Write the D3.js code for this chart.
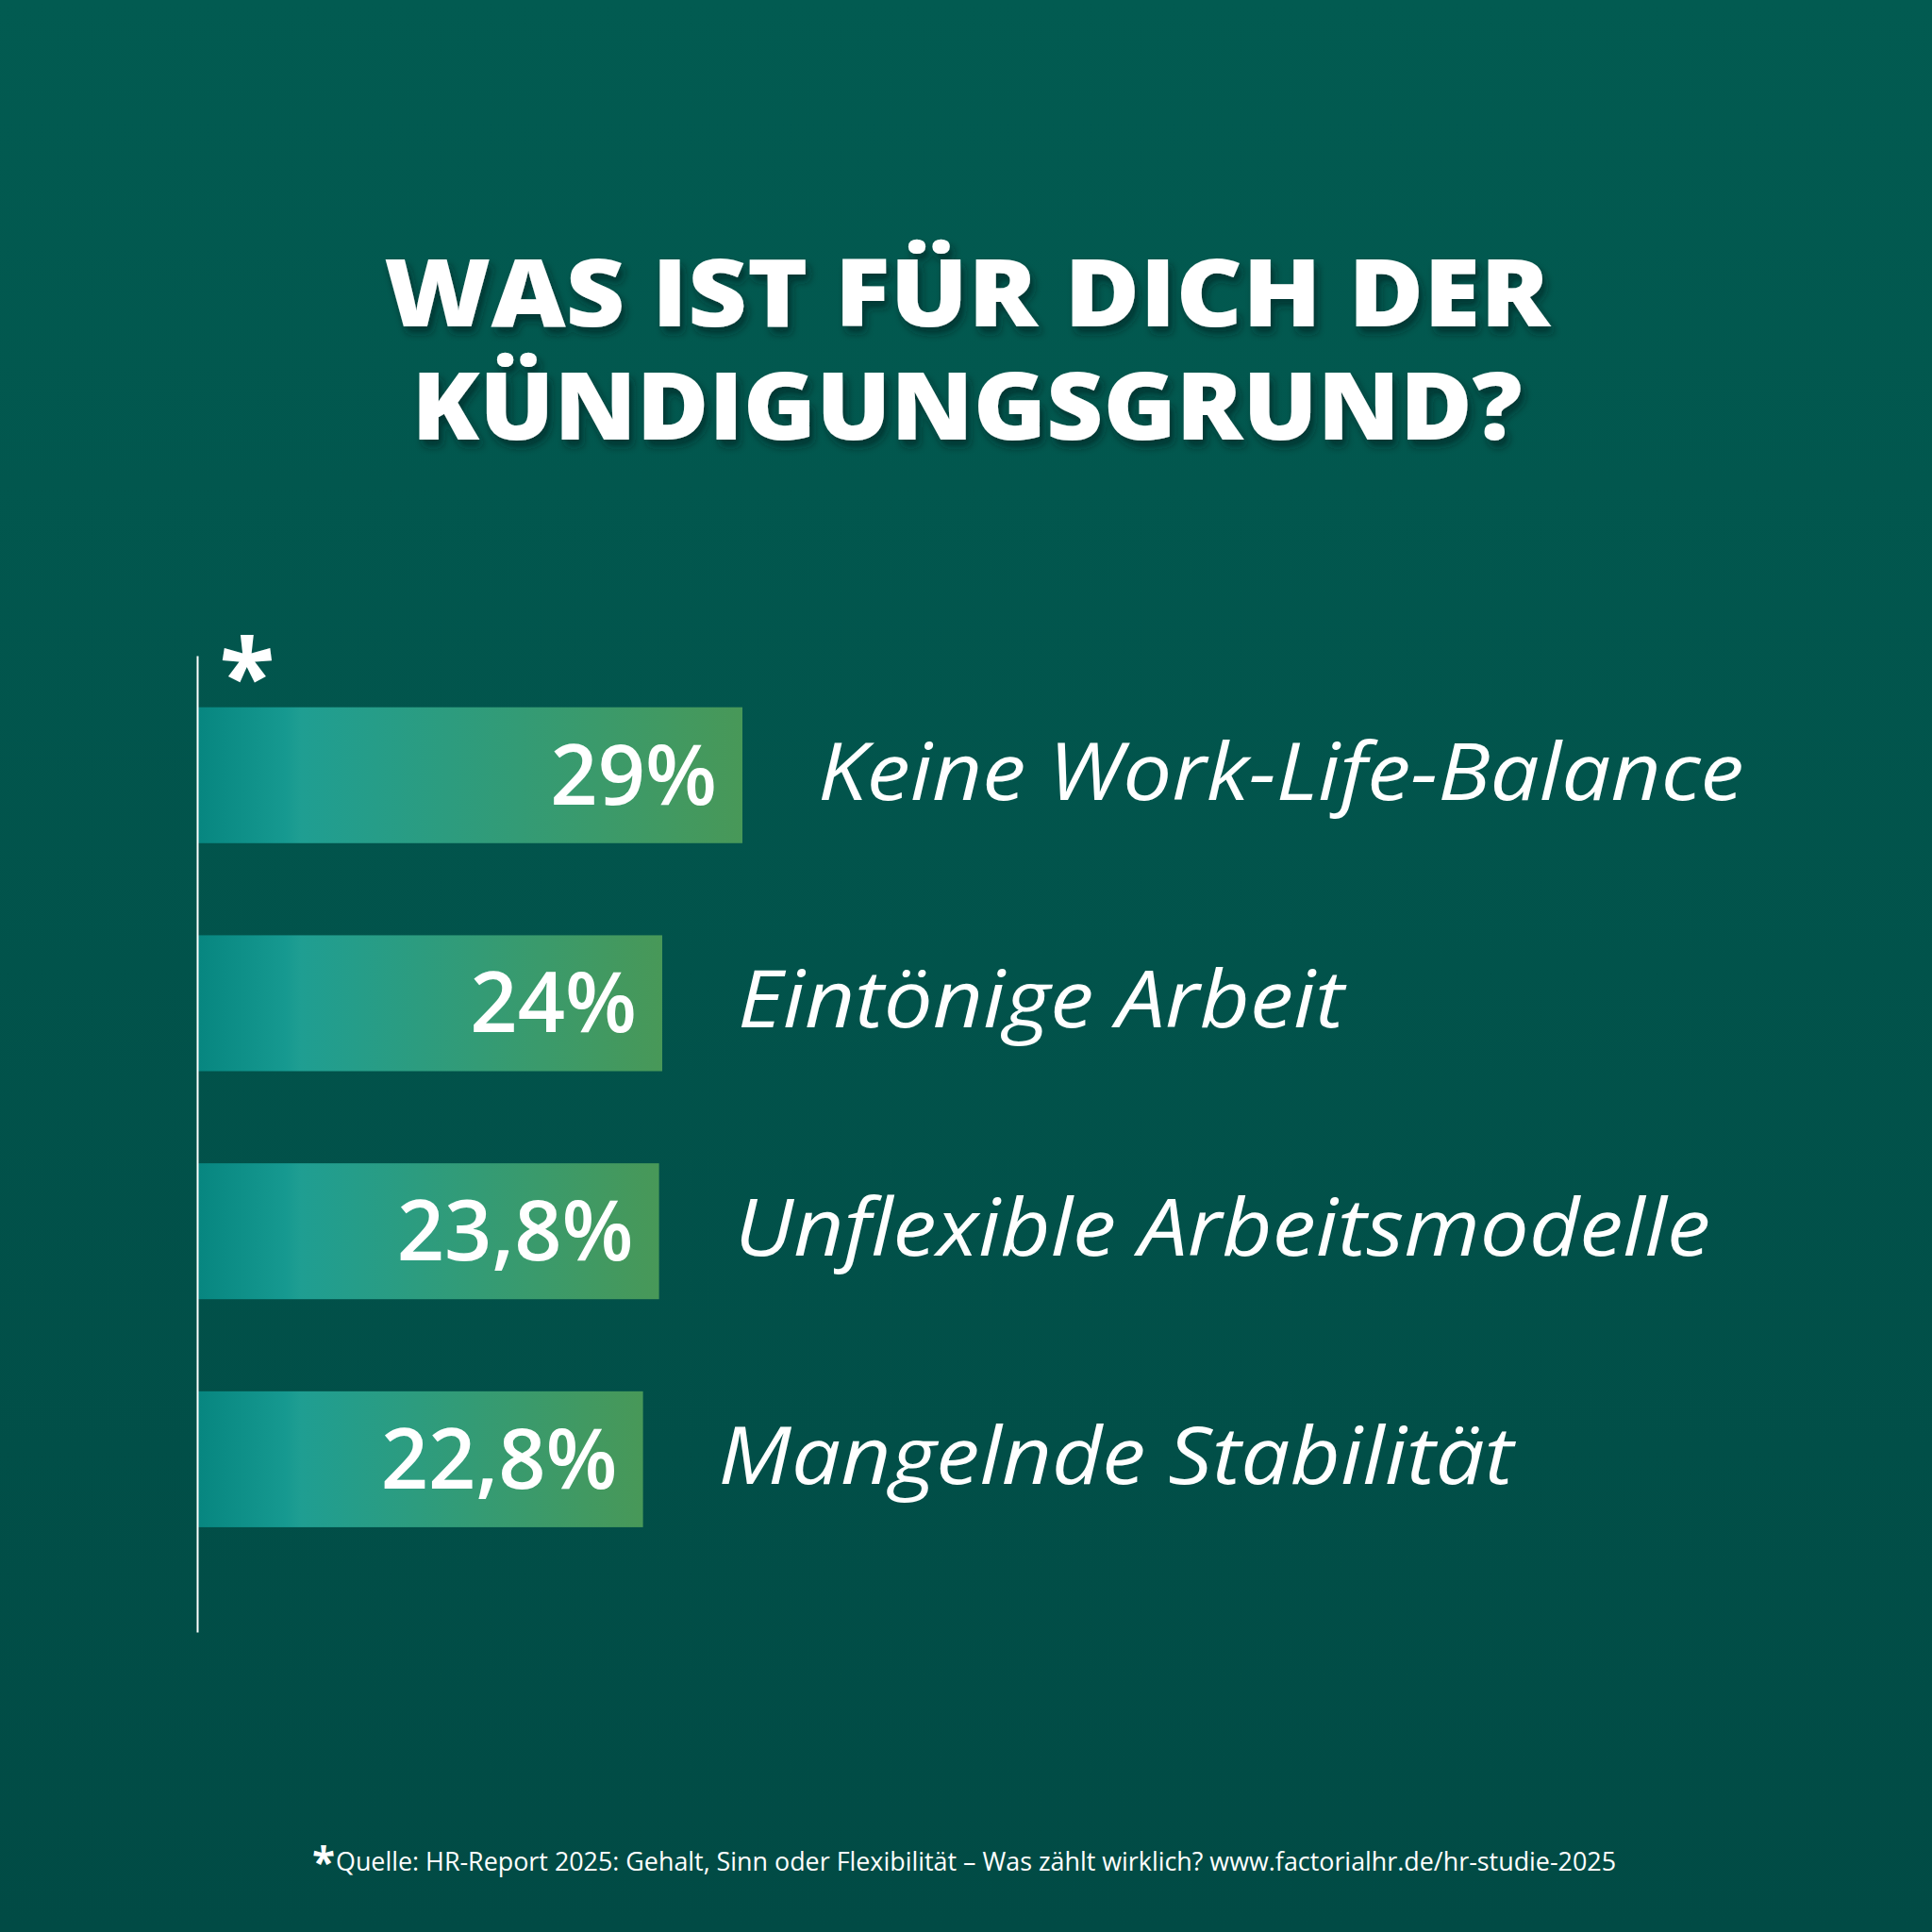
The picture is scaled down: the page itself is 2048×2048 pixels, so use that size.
<!DOCTYPE html>
<html><head><meta charset="utf-8">
<script src="https://cdn.jsdelivr.net/npm/d3@7"></script>
<style>html,body{margin:0;padding:0;background:#03574f;}svg{display:block;}</style>
</head><body>
<svg id="chart" width="2048" height="2048"></svg>
<script>
const categories = ["Keine Work-Life-Balance", "Eintönige Arbeit", "Unflexible Arbeitsmodelle", "Mangelnde Stabilität"];
const values = [29, 24, 23.8, 22.8];
const valueLabels = ["29%", "24%", "23,8%", "22,8%"];
const titleLines = ["WAS IST FÜR DICH DER", "KÜNDIGUNGSGRUND?"];
const sourceText = "Quelle: HR-Report 2025: Gehalt, Sinn oder Flexibilität – Was zählt wirklich? www.factorialhr.de/hr-studie-2025";

const W = 2048, H = 2048;
const axisX = 209;
const svg = d3.select("#chart");
const defs = svg.append("defs");

// background gradient
const bg = defs.append("linearGradient").attr("id", "bg").attr("x1", 0).attr("y1", 0).attr("x2", 0).attr("y2", 1);
bg.append("stop").attr("offset", 0).attr("stop-color", "#025b51");
bg.append("stop").attr("offset", 1).attr("stop-color", "#014b45");
svg.append("rect").attr("width", W).attr("height", H).attr("fill", "url(#bg)");

// title shadow
const f = defs.append("filter").attr("id", "shadow").attr("x", "-10%").attr("y", "-20%").attr("width", "120%").attr("height", "150%");
f.append("feDropShadow").attr("dx", 4).attr("dy", 7).attr("stdDeviation", 4).attr("flood-color", "#00231f").attr("flood-opacity", 0.6);

// title
const titleFont = "'Open Sans', 'DejaVu Sans', sans-serif";
const titleLayout = [{y: 346, len: 1236}, {y: 466, len: 1177}];
svg.append("g").attr("filter", "url(#shadow)")
  .selectAll("text").data(titleLines).join("text")
  .attr("x", 1025).attr("y", (d, i) => titleLayout[i].y)
  .attr("text-anchor", "middle")
  .attr("font-family", titleFont).attr("font-weight", 800).attr("font-size", 100)
  .attr("fill", "#ffffff")
  .attr("textLength", (d, i) => titleLayout[i].len).attr("lengthAdjust", "spacingAndGlyphs")
  .text(d => d);

// scales
const y = d3.scaleBand().domain(categories).range([695, 1730])
  .paddingInner(0.404).paddingOuter(0.343).align(0.33);
const x = d3.scaleLinear().domain([-5, 29]).range([axisX, 787]);

// per-bar gradients
const tealStopX = 318;
categories.forEach((c, i) => {
  const w = x(values[i]) - axisX;
  const g = defs.append("linearGradient").attr("id", "bar" + i).attr("x1", 0).attr("x2", 1).attr("y1", 0).attr("y2", 0);
  g.append("stop").attr("offset", 0).attr("stop-color", "#078680");
  g.append("stop").attr("offset", (tealStopX - axisX) / w * 0.85).attr("stop-color", "#169990");
  g.append("stop").attr("offset", (tealStopX - axisX) / w).attr("stop-color", "#1f9e92");
  g.append("stop").attr("offset", 1).attr("stop-color", "#489858");
});

// bars
svg.append("g").selectAll("rect").data(values).join("rect")
  .attr("x", axisX + 1)
  .attr("y", (d, i) => y(categories[i]))
  .attr("width", d => x(d) - axisX - 1)
  .attr("height", y.bandwidth())
  .attr("fill", (d, i) => `url(#bar${i})`);

// axis line
const axis = svg.append("g").attr("transform", `translate(${axisX},0)`)
  .call(d3.axisLeft(y).tickSize(0).tickFormat(""));
axis.select(".domain").attr("stroke", "#ffffff").attr("stroke-width", 2);

// value labels
svg.append("g").selectAll("text").data(values).join("text")
  .attr("x", d => x(d) - 27)
  .attr("y", (d, i) => y(categories[i]) + y.bandwidth() / 2 + 31)
  .attr("text-anchor", "end")
  .attr("font-family", titleFont).attr("font-weight", 600).attr("font-size", 88)
  .attr("fill", "#ffffff")
  .text((d, i) => valueLabels[i]);

// category labels (stretched slightly to mimic the wider original typeface)
const widen = 1.1;
svg.append("g").selectAll("text").data(categories).join("text")
  .attr("x", (d, i) => x(values[i]) + 80)
  .attr("y", d => y(d) + y.bandwidth() / 2 + 26)
  .attr("font-family", titleFont).attr("font-style", "italic").attr("font-weight", 400).attr("font-size", 84)
  .attr("fill", "#ffffff")
  .text(d => d)
  .each(function() {
    const len = this.getComputedTextLength();
    d3.select(this).attr("textLength", len * widen).attr("lengthAdjust", "spacingAndGlyphs");
  });

// asterisk near axis
svg.append("text").attr("x", 262).attr("y", 755).attr("text-anchor", "middle")
  .attr("font-family", titleFont).attr("font-weight", 700).attr("font-size", 108)
  .attr("fill", "#ffffff").text("*");

// footnote
svg.append("text").attr("x", 343).attr("y", 1990).attr("text-anchor", "middle")
  .attr("font-family", titleFont).attr("font-weight", 700).attr("font-size", 44)
  .attr("fill", "#ffffff").text("*");
svg.append("text").attr("x", 356).attr("y", 1983)
  .attr("font-family", titleFont).attr("font-weight", 400).attr("font-size", 28)
  .attr("fill", "#ffffff").attr("textLength", 1357).attr("lengthAdjust", "spacingAndGlyphs")
  .text(sourceText);
</script>
</body></html>
